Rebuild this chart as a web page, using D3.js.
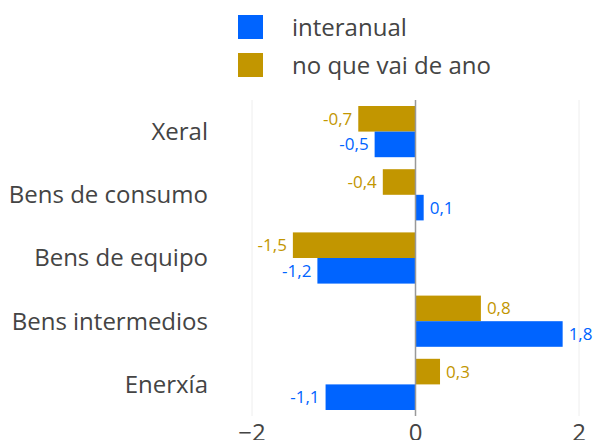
<!DOCTYPE html>
<html>
<head>
<meta charset="utf-8">
<script src="https://cdn.jsdelivr.net/npm/d3@7"></script>
<style>
  body { margin: 0; background: #fff; }
  svg { font-family: 'Open Sans', sans-serif; display: block; }
</style>
</head>
<body>
<div id="chart"></div>
<script>
// data
var categories = ['Xeral', 'Bens de consumo', 'Bens de equipo', 'Bens intermedios', 'Enerxía']
var interanual = [-0.5, 0.1, -1.2, 1.8, -1.1]
var noQueVai = [-0.7, -0.4, -1.5, 0.8, 0.3]
var seriesNames = ['interanual', 'no que vai de ano']
var xTicks = [-2, 0, 2]

var colors = { interanual: '#0064ff', ytd: '#c29600' }

var width = 594
var height = 440
var plot = { left: 252, right: 579, top: 100, bottom: 416 }

var svg = d3.select('#chart')
  .append('svg')
  .attr('width', width)
  .attr('height', height)

var xPositionScale = d3.scaleLinear()
  .domain([-2, 2])
  .range([plot.left, plot.right])

var yPositionScale = d3.scaleBand()
  .domain(categories)
  .range([plot.top, plot.bottom])
  .paddingInner(0.19)
  .paddingOuter(0.095)

var subScale = d3.scaleBand()
  .domain(['ytd', 'interanual'])
  .range([0, yPositionScale.bandwidth()])

var rows = categories.map(function(c, i) {
  return { cat: c, ytd: noQueVai[i], interanual: interanual[i] }
})

// gridlines
svg.append('g')
  .selectAll('line')
  .data(xTicks.filter(d => d !== 0))
  .enter()
  .append('line')
  .attr('x1', d => xPositionScale(d))
  .attr('x2', d => xPositionScale(d))
  .attr('y1', plot.top)
  .attr('y2', plot.bottom)
  .attr('stroke', '#eeeeee')
  .attr('stroke-width', 1)

// bars
var groups = svg.append('g')
  .selectAll('g')
  .data(rows)
  .enter()
  .append('g')
  .attr('transform', d => `translate(0,${yPositionScale(d.cat)})`)

;['ytd', 'interanual'].forEach(function(key) {
  groups.append('rect')
    .attr('x', d => xPositionScale(Math.min(0, d[key])))
    .attr('width', d => Math.abs(xPositionScale(d[key]) - xPositionScale(0)))
    .attr('y', subScale(key))
    .attr('height', subScale.bandwidth())
    .attr('fill', colors[key])

  groups.append('text')
    .attr('x', d => d[key] < 0 ? xPositionScale(d[key]) - 6 : xPositionScale(d[key]) + 6)
    .attr('y', subScale(key) + subScale.bandwidth() / 2)
    .attr('dy', '0.35em')
    .attr('text-anchor', d => d[key] < 0 ? 'end' : 'start')
    .attr('fill', colors[key])
    .style('font-size', '17px')
    .text(d => d3.format('.1f')(d[key]).replace('.', ',').replace('−', '-'))
})

// zero line
svg.append('line')
  .attr('x1', xPositionScale(0))
  .attr('x2', xPositionScale(0))
  .attr('y1', plot.top)
  .attr('y2', plot.bottom)
  .attr('stroke', '#999999')
  .attr('stroke-width', 1.5)

// category labels
svg.append('g')
  .selectAll('text')
  .data(categories)
  .enter()
  .append('text')
  .attr('x', 208)
  .attr('y', d => yPositionScale(d) + yPositionScale.bandwidth() / 2)
  .attr('dy', '0.35em')
  .attr('text-anchor', 'end')
  .attr('fill', '#444')
  .style('font-size', '24px')
  .text(d => d)

// x tick labels (cut at the bottom edge, as in the original)
svg.append('g')
  .selectAll('text')
  .data(xTicks)
  .enter()
  .append('text')
  .attr('x', d => xPositionScale(d))
  .attr('y', 441)
  .attr('text-anchor', 'middle')
  .attr('fill', '#444')
  .style('font-size', '24px')
  .text(d => d3.format('')(d))

// legend
var legend = svg.append('g')
  .selectAll('g')
  .data([{ name: seriesNames[0], key: 'interanual' }, { name: seriesNames[1], key: 'ytd' }])
  .enter()
  .append('g')
  .attr('transform', (d, i) => `translate(238,${15 + i * 38})`)

legend.append('rect')
  .attr('width', 25)
  .attr('height', 24)
  .attr('fill', d => colors[d.key])

legend.append('text')
  .attr('x', 54)
  .attr('y', 21)
  .attr('fill', '#444')
  .style('font-size', '24px')
  .text(d => d.name)
</script>
</body>
</html>
